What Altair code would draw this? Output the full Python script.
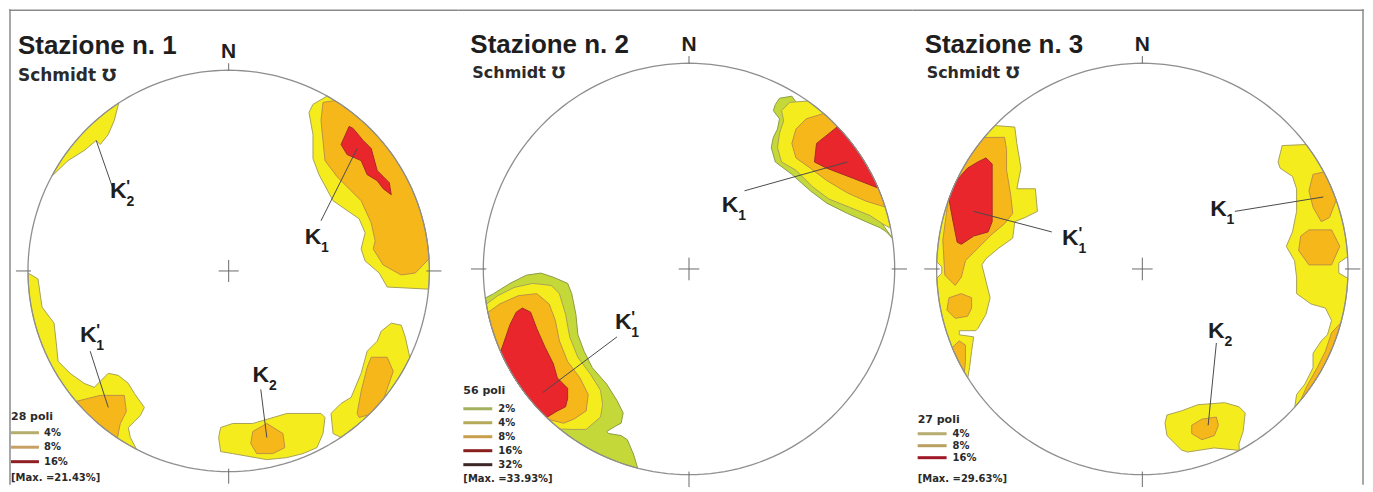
import math
import pandas as pd
import altair as alt

# ---------------- data ----------------
STATIONS = ["Stazione n. 1", "Stazione n. 2", "Stazione n. 3"]
NET = "Schmidt \u2127"
NORTH = "N"
POLES = ["28 poli", "56 poli", "27 poli"]
MAXIMA = ["[Max. =21.43%]", "[Max. =33.93%]", "[Max. =29.63%]"]
LEVELS = [["4%", "8%", "16%"], ["2%", "4%", "8%", "16%", "32%"], ["4%", "8%", "16%"]]
LEVEL_COLORS = [
    ["#b4ae6c", "#c9a064", "#8e1f22"],
    ["#a3b05e", "#b5a95a", "#c89e4c", "#8a1e1e", "#3c2626"],
    ["#b7ac72", "#b9a060", "#a01828"],
]

# contour polygons in unit stereonet coordinates (x = east, y = north);
# points with radius >= 0.985 lie on the primitive circle
S1_K1_4 = [(0.49, 0.87), (0.42, 0.83), (0.40, 0.79), (0.42, 0.68), (0.42, 0.56), (0.45, 0.48),
           (0.52, 0.35), (0.65, 0.26), (0.68, 0.19), (0.66, 0.11), (0.68, 0.05), (0.75, -0.01),
           (0.79, -0.08), (0.99, -0.09)]
S1_K1_8 = [(0.53, 0.85), (0.47, 0.84), (0.46, 0.75), (0.48, 0.55), (0.54, 0.47), (0.66, 0.35),
           (0.71, 0.24), (0.73, 0.15), (0.72, 0.11), (0.77, 0.03), (0.86, -0.02), (0.93, -0.01),
           (0.99, 0.06)]
S1_K1_16 = [(0.60, 0.72), (0.56, 0.63), (0.59, 0.58), (0.66, 0.55), (0.69, 0.48), (0.74, 0.45),
            (0.77, 0.41), (0.81, 0.38), (0.80, 0.44), (0.74, 0.50), (0.71, 0.61), (0.67, 0.65),
            (0.62, 0.71)]
S1_K2P_4 = [(-0.55, 0.84), (-0.57, 0.75), (-0.60, 0.68), (-0.64, 0.63), (-0.66, 0.65),
            (-0.72, 0.60), (-0.80, 0.55), (-0.88, 0.47)]
S1_K1P_4 = [(-0.99, -0.01), (-0.95, -0.04), (-0.94, -0.11), (-0.93, -0.18), (-0.87, -0.26),
            (-0.86, -0.35), (-0.85, -0.45), (-0.79, -0.51), (-0.72, -0.56), (-0.67, -0.58),
            (-0.64, -0.55), (-0.60, -0.51), (-0.55, -0.52), (-0.50, -0.56), (-0.47, -0.61),
            (-0.42, -0.68), (-0.44, -0.72), (-0.47, -0.75), (-0.50, -0.78), (-0.49, -0.83),
            (-0.46, -0.89)]
S1_K1P_8 = [(-0.76, -0.65), (-0.64, -0.62), (-0.52, -0.62), (-0.51, -0.70), (-0.54, -0.76),
            (-0.56, -0.84)]
S1_K2_4 = [(-0.04, -0.78), (0.02, -0.76), (0.12, -0.76), (0.29, -0.71), (0.46, -0.71),
           (0.48, -0.73), (0.47, -0.81), (0.44, -0.88), (0.37, -0.91), (0.29, -0.93),
           (0.19, -0.94), (0.02, -0.91), (-0.04, -0.90), (-0.05, -0.83)]
S1_K2_8 = [(0.12, -0.80), (0.19, -0.76), (0.27, -0.81), (0.28, -0.88), (0.22, -0.91),
           (0.14, -0.91), (0.11, -0.86)]
S1_SE_4 = [(0.52, -0.81), (0.51, -0.71), (0.56, -0.66), (0.61, -0.63), (0.66, -0.51),
           (0.69, -0.40), (0.74, -0.35), (0.76, -0.30), (0.81, -0.26), (0.86, -0.27),
           (0.88, -0.33), (0.90, -0.43), (0.56, -0.83)]
S1_SE_8 = [(0.64, -0.71), (0.66, -0.60), (0.69, -0.48), (0.71, -0.43), (0.79, -0.43),
           (0.82, -0.50), (0.77, -0.63), (0.69, -0.71), (0.65, -0.73)]

S2_K1_2 = [(0.50, 0.84), (0.44, 0.83), (0.42, 0.80), (0.41, 0.77), (0.44, 0.73), (0.43, 0.68),
           (0.41, 0.64), (0.40, 0.59), (0.42, 0.52), (0.50, 0.46), (0.59, 0.38), (0.67, 0.32),
           (0.77, 0.27), (0.86, 0.23), (0.93, 0.20), (0.96, 0.18), (0.99, 0.15)]
S2_K1_4 = [(0.58, 0.82), (0.49, 0.81), (0.45, 0.77), (0.46, 0.72), (0.44, 0.66), (0.43, 0.59),
           (0.45, 0.52), (0.52, 0.48), (0.60, 0.40), (0.68, 0.34), (0.78, 0.30), (0.88, 0.26),
           (0.94, 0.22), (0.99, 0.20)]
S2_K1_8 = [(0.65, 0.75), (0.57, 0.73), (0.52, 0.68), (0.50, 0.61), (0.52, 0.54), (0.59, 0.49),
           (0.67, 0.43), (0.77, 0.37), (0.86, 0.33), (0.95, 0.30)]
S2_K1_16 = [(0.72, 0.69), (0.62, 0.61), (0.61, 0.52), (0.67, 0.49), (0.80, 0.44), (0.91, 0.39)]
S2_K1P_2 = [(-0.98, -0.14), (-0.95, -0.12), (-0.87, -0.07), (-0.79, -0.03), (-0.72, -0.02),
            (-0.66, -0.04), (-0.59, -0.07), (-0.57, -0.12), (-0.55, -0.22), (-0.54, -0.32),
            (-0.51, -0.40), (-0.47, -0.48), (-0.40, -0.56), (-0.35, -0.64), (-0.32, -0.70),
            (-0.33, -0.75), (-0.35, -0.76), (-0.40, -0.79), (-0.39, -0.80), (-0.33, -0.81),
            (-0.30, -0.83), (-0.27, -0.90), (-0.25, -0.97)]
S2_K1P_4 = [(-0.98, -0.17), (-0.93, -0.13), (-0.85, -0.09), (-0.76, -0.07), (-0.67, -0.08),
            (-0.63, -0.12), (-0.60, -0.22), (-0.58, -0.33), (-0.54, -0.43), (-0.48, -0.51),
            (-0.43, -0.59), (-0.42, -0.66), (-0.43, -0.72), (-0.50, -0.78), (-0.57, -0.78),
            (-0.63, -0.78)]
S2_K1P_8 = [(-0.97, -0.21), (-0.92, -0.17), (-0.83, -0.13), (-0.74, -0.12), (-0.68, -0.17),
            (-0.65, -0.25), (-0.63, -0.35), (-0.59, -0.45), (-0.53, -0.53), (-0.49, -0.61),
            (-0.50, -0.69), (-0.56, -0.73), (-0.61, -0.75), (-0.68, -0.73)]
S2_K1P_16 = [(-0.91, -0.40), (-0.87, -0.27), (-0.84, -0.21), (-0.81, -0.19), (-0.77, -0.21),
             (-0.74, -0.29), (-0.70, -0.38), (-0.66, -0.46), (-0.64, -0.53), (-0.59, -0.58),
             (-0.59, -0.63), (-0.60, -0.67), (-0.64, -0.69), (-0.69, -0.72)]

S3_K1P_4 = [(-0.72, 0.70), (-0.62, 0.69), (-0.61, 0.61), (-0.59, 0.49), (-0.61, 0.39),
            (-0.52, 0.39), (-0.51, 0.28), (-0.57, 0.25), (-0.62, 0.23), (-0.63, 0.15),
            (-0.70, 0.10), (-0.76, 0.05), (-0.78, 0.02), (-0.76, -0.06), (-0.74, -0.14),
            (-0.76, -0.22), (-0.80, -0.29), (-0.81, -0.30), (-0.89, -0.30), (-0.89, -0.32),
            (-0.82, -0.33), (-0.83, -0.40), (-0.84, -0.48), (-0.85, -0.53), (-0.999, -0.045),
            (-0.975, -0.02), (-0.975, 0.01), (-0.999, 0.035)]
S3_K1P_8 = [(-0.77, 0.64), (-0.67, 0.64), (-0.66, 0.58), (-0.66, 0.48), (-0.64, 0.36),
            (-0.63, 0.27), (-0.67, 0.22), (-0.73, 0.17), (-0.78, 0.12), (-0.82, 0.08),
            (-0.86, 0.04), (-0.88, -0.04), (-0.91, -0.08), (-0.96, -0.03), (-0.97, 0.14),
            (-0.95, 0.33)]
S3_W_8A = [(-0.94, -0.14), (-0.88, -0.12), (-0.83, -0.14), (-0.83, -0.19), (-0.85, -0.23),
           (-0.91, -0.24), (-0.95, -0.20)]
S3_W_8B = [(-0.92, -0.38), (-0.89, -0.35), (-0.86, -0.37), (-0.86, -0.45), (-0.88, -0.51)]
S3_K1P_16 = [(-0.80, 0.52), (-0.76, 0.54), (-0.73, 0.51), (-0.73, 0.44), (-0.73, 0.34),
             (-0.73, 0.23), (-0.75, 0.18), (-0.82, 0.16), (-0.88, 0.12), (-0.90, 0.13),
             (-0.92, 0.23), (-0.94, 0.34), (-0.90, 0.43), (-0.85, 0.49)]
S3_K1_4 = [(0.79, 0.60), (0.68, 0.60), (0.66, 0.52), (0.67, 0.49), (0.73, 0.45), (0.75, 0.39),
           (0.75, 0.28), (0.73, 0.18), (0.70, 0.11), (0.74, 0.04), (0.75, -0.04), (0.75, -0.12),
           (0.82, -0.17), (0.89, -0.19), (0.92, -0.25), (0.90, -0.32), (0.87, -0.35),
           (0.83, -0.41), (0.83, -0.48), (0.79, -0.56), (0.75, -0.61), (0.74, -0.67),
           (0.999, -0.045), (0.955, -0.02), (0.955, 0.03), (0.999, 0.06)]
S3_K1_8A = [(0.83, 0.46), (0.88, 0.47), (0.92, 0.41), (0.93, 0.33), (0.91, 0.25), (0.87, 0.23),
            (0.83, 0.30), (0.81, 0.38)]
S3_K1_8B = [(0.77, 0.16), (0.81, 0.19), (0.92, 0.19), (0.96, 0.11), (0.92, 0.02), (0.81, 0.02),
            (0.76, 0.09)]
S3_E_8C = [(0.96, -0.26), (0.92, -0.31), (0.89, -0.40), (0.85, -0.48), (0.80, -0.57),
           (0.77, -0.64)]
S3_K2_4 = [(0.12, -0.71), (0.19, -0.69), (0.27, -0.66), (0.40, -0.65), (0.47, -0.67),
           (0.50, -0.70), (0.49, -0.79), (0.47, -0.85), (0.47, -0.88), (0.35, -0.87),
           (0.22, -0.89), (0.19, -0.88), (0.12, -0.81), (0.11, -0.75)]
S3_K2_8 = [(0.24, -0.76), (0.29, -0.73), (0.36, -0.72), (0.37, -0.76), (0.35, -0.81),
           (0.29, -0.83), (0.24, -0.80)]

CONTOURS = [
    [("4%", S1_K1_4), ("4%", S1_K2P_4), ("4%", S1_K1P_4), ("4%", S1_K2_4), ("4%", S1_SE_4),
     ("8%", S1_K1_8), ("8%", S1_K1P_8), ("8%", S1_K2_8), ("8%", S1_SE_8), ("16%", S1_K1_16)],
    [("2%", S2_K1_2), ("2%", S2_K1P_2), ("4%", S2_K1_4), ("4%", S2_K1P_4),
     ("8%", S2_K1_8), ("8%", S2_K1P_8), ("16%", S2_K1_16), ("16%", S2_K1P_16)],
    [("4%", S3_K1P_4), ("4%", S3_K1_4), ("4%", S3_K2_4),
     ("8%", S3_K1P_8), ("8%", S3_W_8A), ("8%", S3_W_8B), ("8%", S3_K1_8A), ("8%", S3_K1_8B),
     ("8%", S3_E_8C), ("8%", S3_K2_8), ("16%", S3_K1P_16)],
]

# pole-cluster labels: (letter, subscript, primed, centre x, centre y of the letter)
LABELS = [
    [("K", "1", False, 0.42, 0.17), ("K", "2", True, -0.55, 0.40),
     ("K", "1", True, -0.70, -0.32), ("K", "2", False, 0.16, -0.52)],
    [("K", "1", False, 0.20, 0.31), ("K", "1", True, -0.32, -0.26)],
    [("K", "1", True, -0.35, 0.15), ("K", "1", False, 0.37, 0.29), ("K", "2", False, 0.36, -0.30)],
]
LEADERS = [
    [(0.64, 0.61, 0.46, 0.25), (-0.66, 0.65, -0.58, 0.42), (-0.60, -0.68, -0.69, -0.40),
     (0.19, -0.83, 0.16, -0.59)],
    [(0.77, 0.52, 0.27, 0.38), (-0.71, -0.60, -0.35, -0.33)],
    [(-0.82, 0.28, -0.44, 0.18), (0.88, 0.35, 0.45, 0.28), (0.32, -0.76, 0.36, -0.36)],
]

# ---------------- styles & layout ----------------
FILL = {"2%": "#c5d83a", "4%": "#f4ec1c", "8%": "#f5b719", "16%": "#e8262b"}
EDGE = {"2%": "#8c9c44", "4%": "#a9a258", "8%": "#bf9044", "16%": "#a82a28"}
LEVEL_ORDER = ["2%", "4%", "8%", "16%"]

# (width, height, centre x, centre y, radius) in pixels of each panel
PANELS = [(450, 476, 220, 262, 201), (455, 476, 231, 260, 206), (452, 476, 230, 260, 206)]
TITLE_POS = [(9, 45), (12, 44), (12, 44)]
NET_POS = [(9, 72, 17), (14, 69, 16), (14, 69, 16)]
LEG = [  # x0, x1, label x, title y, first row y, row step, max y
    (2, 30, 35, 408, 424, 14.5, 469),
    (5, 34, 40, 382, 400, 14, 470),
    (5, 34, 40, 411, 425, 12, 470),
]
FRAME = "#8a8a8a"
INK = "#1e1e1e"


def on_circle(poly, thr=0.985):
    pts = []
    n = len(poly)
    for i in range(n):
        p, q = poly[i], poly[(i + 1) % n]
        rp, rq = math.hypot(*p), math.hypot(*q)
        if rp >= thr:
            p = (p[0] / rp, p[1] / rp)
        pts.append(p)
        if rp >= thr and rq >= thr:
            a0 = math.atan2(p[1], p[0])
            a1 = math.atan2(q[1], q[0])
            d = (a1 - a0 + math.pi) % (2 * math.pi) - math.pi
            k = max(1, int(abs(d) / 0.03))
            for j in range(1, k):
                a = a0 + d * j / k
                pts.append((math.cos(a), math.sin(a)))
    pts.append(pts[0])
    return pts


def one(**kw):
    return pd.DataFrame({k: [v] for k, v in kw.items()})


def panel(i):
    W, H, cx, cy, r = PANELS[i]
    xs = alt.Scale(domain=[-cx / r, (W - cx) / r], nice=False, zero=False)
    ys = alt.Scale(domain=[-(H - cy) / r, cy / r], nice=False, zero=False)

    def X(f):
        return alt.X(f, type="quantitative", scale=xs, axis=None)

    def Y(f):
        return alt.Y(f, type="quantitative", scale=ys, axis=None)

    layers = []

    # contour polygons
    rows = []
    for pid, (lv, poly) in enumerate(CONTOURS[i]):
        for o, (x, y) in enumerate(on_circle(poly)):
            rows.append({"pid": pid, "level": lv, "ord": o, "x": x, "y": y})
    cdf = pd.DataFrame(rows)
    for lv in LEVEL_ORDER:
        d = cdf[cdf.level == lv]
        if len(d) == 0:
            continue
        layers.append(
            alt.Chart(d).mark_line(fill=FILL[lv], stroke=EDGE[lv], strokeWidth=1,
                                   strokeJoin="round")
            .encode(x=X("x"), y=Y("y"), order="ord:Q", detail="pid:N")
        )

    # primitive circle
    circ = pd.DataFrame({"a": list(range(0, 361, 2))})
    circ["x"] = [math.sin(math.radians(a)) for a in circ.a]
    circ["y"] = [math.cos(math.radians(a)) for a in circ.a]
    layers.append(alt.Chart(circ).mark_line(color="#8e8e8e", strokeWidth=1.3)
                  .encode(x=X("x"), y=Y("y"), order="a:Q"))

    # ticks and centre cross
    ticks = pd.DataFrame({
        "x1": [0, 0.985, -0.985, 0, -0.05, 0],
        "y1": [1.0, 0, 0, -0.985, 0, -0.055],
        "x2": [0, 1.06, -1.06, 0, 0.05, 0],
        "y2": [1.035, 0, 0, -1.06, 0, 0.055],
    })
    layers.append(alt.Chart(ticks).mark_rule(color="#6a6a6a", strokeWidth=1)
                  .encode(x=X("x1"), y=Y("y1"), x2="x2:Q", y2="y2:Q"))

    # leader lines
    ld = pd.DataFrame(LEADERS[i], columns=["x1", "y1", "x2", "y2"])
    layers.append(alt.Chart(ld).mark_rule(color="#4a4a4a", strokeWidth=1)
                  .encode(x=X("x1"), y=Y("y1"), x2="x2:Q", y2="y2:Q"))

    # labels: letter, subscript and prime share the letter's position
    lab = pd.DataFrame(LABELS[i], columns=["k", "sub", "primed", "x", "y"])
    lab["prime"] = ["'" if p else "" for p in lab.primed]
    layers.append(alt.Chart(lab).mark_text(font="Liberation Sans", fontWeight="bold",
                                           fontSize=23, color=INK, baseline="middle")
                  .encode(x=X("x"), y=Y("y"), text="k:N"))
    layers.append(alt.Chart(lab).mark_text(font="Liberation Sans", fontWeight="bold",
                                           fontSize=14, color=INK, baseline="middle",
                                           dx=12, dy=11)
                  .encode(x=X("x"), y=Y("y"), text="sub:N"))
    layers.append(alt.Chart(lab[lab.primed]).mark_text(
        font="Liberation Sans", fontWeight="bold", fontSize=16, color=INK,
        baseline="alphabetic", dx=10, dy=1)
        .encode(x=X("x"), y=Y("y"), text="prime:N"))

    # north letter
    layers.append(alt.Chart(one(t=NORTH, x=0.0, y=1.06)).mark_text(
        font="Liberation Sans", fontWeight="bold", fontSize=21, color=INK,
        baseline="alphabetic").encode(x=X("x"), y=Y("y"), text="t:N"))

    # title and net type
    tx, ty = TITLE_POS[i]
    layers.append(alt.Chart(one(t=STATIONS[i])).mark_text(
        font="Liberation Sans", fontWeight="bold", fontSize=26, color=INK,
        align="left", baseline="alphabetic").encode(x=alt.value(tx), y=alt.value(ty), text="t:N"))
    nx, ny, nfs = NET_POS[i]
    layers.append(alt.Chart(one(t=NET)).mark_text(
        font="DejaVu Sans", fontWeight="bold", fontSize=nfs, color="#2a2a2a",
        align="left", baseline="alphabetic").encode(x=alt.value(nx), y=alt.value(ny), text="t:N"))

    # legend
    x0, x1, lx, tyl, y0, step, my = LEG[i]
    layers.append(alt.Chart(one(t=POLES[i])).mark_text(
        font="DejaVu Sans", fontWeight="bold", fontSize=11, color="#2a2a2a",
        align="left", baseline="middle").encode(x=alt.value(x0), y=alt.value(tyl), text="t:N"))
    for k, (lab_t, col) in enumerate(zip(LEVELS[i], LEVEL_COLORS[i])):
        yy = y0 + k * step
        layers.append(alt.Chart(one(t=lab_t)).mark_rule(color=col, strokeWidth=3)
                      .encode(x=alt.value(x0), x2=alt.value(x1), y=alt.value(yy)))
        layers.append(alt.Chart(one(t=lab_t)).mark_text(
            font="DejaVu Sans", fontWeight="bold", fontSize=10, color="#2a2a2a",
            align="left", baseline="middle").encode(x=alt.value(lx), y=alt.value(yy), text="t:N"))
    layers.append(alt.Chart(one(t=MAXIMA[i])).mark_text(
        font="DejaVu Sans", fontWeight="bold", fontSize=10, color="#2a2a2a",
        align="left", baseline="middle").encode(x=alt.value(x0), y=alt.value(my), text="t:N"))

    # outer frame pieces
    layers.append(alt.Chart(one(t="f")).mark_rule(color=FRAME, strokeWidth=1.5)
                  .encode(x=alt.value(0), x2=alt.value(W), y=alt.value(1)))
    if i == 0:
        layers.append(alt.Chart(one(t="f")).mark_rule(color=FRAME, strokeWidth=1.5)
                      .encode(x=alt.value(1), y=alt.value(0), y2=alt.value(H)))
    if i == 2:
        layers.append(alt.Chart(one(t="f")).mark_rule(color=FRAME, strokeWidth=1.5)
                      .encode(x=alt.value(W - 1), y=alt.value(0), y2=alt.value(H)))

    return alt.layer(*layers).properties(width=W, height=H)


chart = (
    alt.hconcat(*[panel(i) for i in range(3)], spacing=0, bounds="flush")
    .properties(padding=0)
    .configure_view(stroke=None)
)

chart.save("out.html", embed_options={"renderer": "svg", "actions": False})
